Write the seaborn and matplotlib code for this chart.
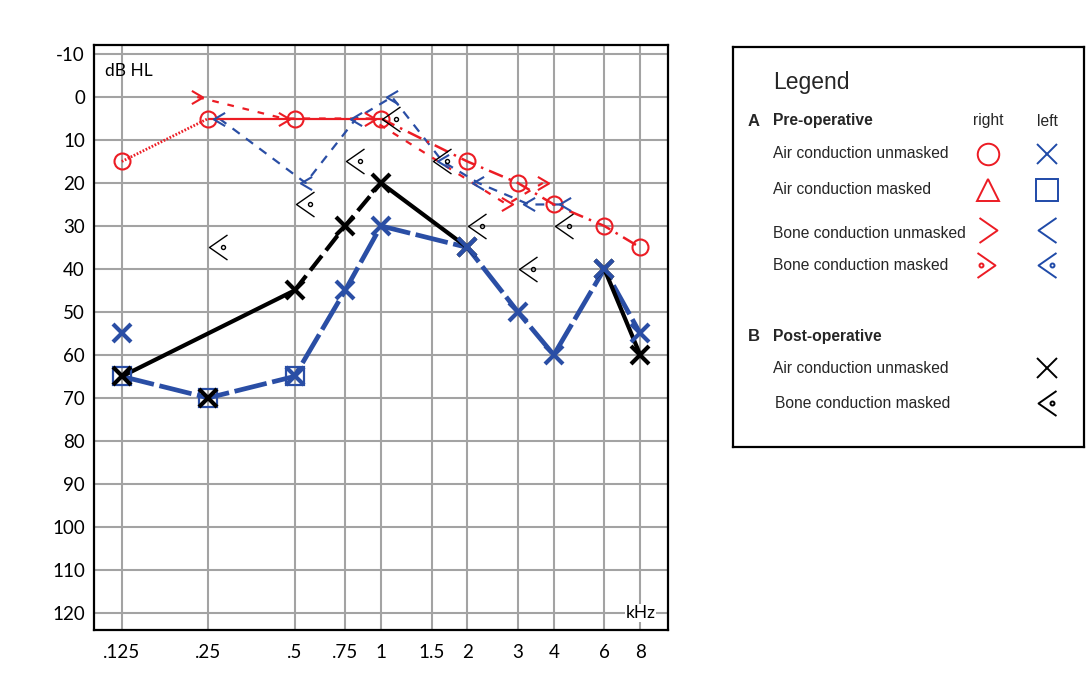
import numpy as np
import pandas as pd
import matplotlib
matplotlib.use('Agg')
import matplotlib.pyplot as plt
import seaborn as sns
from matplotlib.path import Path
from matplotlib.transforms import ScaledTranslation
from matplotlib.ticker import NullLocator, FixedLocator, FixedFormatter

# ---------------- data ----------------
freq_ticks = [0.125, 0.25, 0.5, 0.75, 1, 1.5, 2, 3, 4, 6, 8]
freq_labels = ['.125', '.25', '.5', '.75', '1', '1.5', '2', '3', '4', '6', '8']
db_ticks = list(range(-10, 130, 10))

# Pre-operative, right ear
right_air_freq = [0.125, 0.25, 0.5, 1, 2, 3, 4, 6, 8]
right_air_db = [15, 5, 5, 5, 15, 20, 25, 30, 35]
right_bone_freq = [0.25, 0.5, 1, 3, 4]
right_bone_db = [0, 5, 5, 25, 20]

# Pre-operative, left ear
left_air_freq = [0.125, 0.25, 0.5, 0.75, 1, 2, 3, 4, 6, 8]
left_air_db = [65, 70, 65, 45, 30, 35, 50, 60, 40, 55]
left_air_extra_freq = [0.125]
left_air_extra_db = [55]
left_air_masked_freq = [0.125, 0.25, 0.5]
left_air_masked_db = [65, 70, 65]
left_bone_freq = [0.25, 0.5, 0.75, 1, 1.5, 2, 3, 4]
left_bone_db = [5, 20, 5, 0, 15, 20, 25, 25]

# Post-operative
post_air_freq = [0.125, 0.25, 0.5, 0.75, 1, 2, 6, 8]
post_air_db = [65, 70, 45, 30, 20, 35, 40, 60]
post_bone_freq = [0.25, 0.5, 0.75, 1, 1.5, 2, 3, 4]
post_bone_db = [35, 25, 15, 5, 15, 30, 40, 30]

# ---------------- style ----------------
RED = '#ec1c24'
BLUE = '#2a4ea5'
LBLUE = '#1f4aa8'
GRID = '#a3a3a3'

sns.set_style('white')
plt.rcParams['font.family'] = ['Lato', 'DejaVu Sans']

W, H = 1086, 686
fig = plt.figure(figsize=(W / 100, H / 100), dpi=100)
ax = fig.add_axes([94 / W, 1 - 630 / H, 574 / W, 585 / H])
ax.set_xscale('log', base=2)
ax.set_xlim(0.1, 10.0)
ax.set_ylim(124.0, -12.1)


def chevron(direction, dot=False, half_w=0.72):
    s = 1 if direction == 'left' else -1
    verts = [(s * half_w, 1), (-s * half_w, 0), (s * half_w, -1)]
    p = Path(verts, [Path.MOVETO, Path.LINETO, Path.LINETO])
    if dot:
        c = Path.circle((s * 0.40, 0), 0.16)
        p = Path.make_compound_path(p, c)
    return p


M_LEFT = chevron('left', half_w=0.85)
M_RIGHT = chevron('right', half_w=0.85)
M_LEFT_DOT = chevron('left', dot=True)
M_RIGHT_DOT = chevron('right', dot=True)


def draw_line(f, d, color, lw, ls, offset_px=0, z=2):
    sns.lineplot(x=f, y=d, ax=ax, sort=False, estimator=None, legend=False,
                 color=color, linewidth=lw, linestyle=ls, zorder=z)
    ln = ax.lines[-1]
    ln.set_solid_capstyle('butt')
    ln.set_dash_capstyle('butt')
    if offset_px:
        ln.set_transform(ax.transData + ScaledTranslation(offset_px / 100, 0, fig.dpi_scale_trans))
    return ln


def draw_markers(f, d, marker, color, size, mew, offset_px=0, z=4):
    sns.lineplot(x=f, y=d, ax=ax, sort=False, estimator=None, legend=False,
                 color=color, linestyle='none', marker=marker, markersize=size,
                 markeredgewidth=mew, markeredgecolor=color,
                 markerfacecolor='none', zorder=z)
    ln = ax.lines[-1]
    if offset_px:
        ln.set_transform(ax.transData + ScaledTranslation(offset_px / 100, 0, fig.dpi_scale_trans))
    return ln


RB_OFF, LB_OFF = -11, 11

# --- left ear (blue) ---
draw_line(left_air_freq, left_air_db, BLUE, 3.4, (0, (7, 1.2)), z=2)
draw_line(left_bone_freq, left_bone_db, BLUE, 1.6, (0, (4, 3.5)), offset_px=LB_OFF, z=2)

# --- right ear (red) ---
draw_line(right_air_freq[0:2], right_air_db[0:2], RED, 2.0, (0, (0.6, 0.6)), z=2)
draw_line(right_air_freq[1:4], right_air_db[1:4], RED, 1.6, '-', z=2)
draw_line(right_air_freq[3:], right_air_db[3:], RED, 1.8, (0, (6, 2.5, 1, 2.5)), z=2)
draw_line(right_bone_freq, right_bone_db, RED, 1.6, (0, (3, 4)), offset_px=RB_OFF, z=2)

# --- post-operative (black) ---
idx_a = [0, 2]
idx_b = [2, 3, 4]
idx_c = [4, 5]
idx_d = [6, 7]
draw_line([post_air_freq[i] for i in idx_a], [post_air_db[i] for i in idx_a], 'black', 3.0, '-', z=3)
draw_line([post_air_freq[i] for i in idx_b], [post_air_db[i] for i in idx_b], 'black', 3.0, (0, (4.5, 1.6)), z=3)
draw_line([post_air_freq[i] for i in idx_c], [post_air_db[i] for i in idx_c], 'black', 3.0, '-', z=3)
draw_line([post_air_freq[i] for i in idx_d], [post_air_db[i] for i in idx_d], 'black', 3.0, '-', z=3)

# --- markers ---
draw_markers(right_air_freq, right_air_db, 'o', RED, 11.5, 1.5, z=5)
draw_markers(right_bone_freq, right_bone_db, M_RIGHT, RED, 9.5, 1.5, offset_px=RB_OFF, z=5)
draw_markers(left_bone_freq, left_bone_db, M_LEFT, BLUE, 9.5, 1.5, offset_px=LB_OFF, z=5)
draw_markers(left_air_masked_freq, left_air_masked_db, 's', BLUE, 12.5, 1.6, z=4)
draw_markers(post_air_freq, post_air_db, 'x', 'black', 13.5, 3.0, z=5)
draw_markers(left_air_freq[2:], left_air_db[2:], 'x', BLUE, 13.5, 3.0, z=6)
draw_markers(left_air_extra_freq, left_air_extra_db, 'x', BLUE, 13.5, 3.0, z=6)
draw_markers(post_bone_freq, post_bone_db, M_LEFT_DOT, 'black', 18, 1.0, offset_px=LB_OFF - 1, z=6)

# --- axes styling ---
ax.xaxis.set_major_locator(FixedLocator(freq_ticks))
ax.xaxis.set_major_formatter(FixedFormatter(freq_labels))
ax.xaxis.set_minor_locator(NullLocator())
ax.set_yticks(db_ticks)
ax.set_yticklabels([str(v) for v in db_ticks])
ax.tick_params(axis='both', length=0, labelsize=13.5, colors='black')
ax.tick_params(axis='y', pad=6.5)
ax.tick_params(axis='x', pad=10)
ax.grid(True, color=GRID, linewidth=1.5, zorder=0)
ax.set_axisbelow(True)
for sp in ax.spines.values():
    sp.set_visible(True)
    sp.set_color('black')
    sp.set_linewidth(1.6)
ax.set_xlabel('')
ax.set_ylabel('')

ax.text(0.019, 0.955, 'dB HL', transform=ax.transAxes, ha='left', va='center',
        fontsize=12.5, color='black')
ax.text(0.978, 120, 'kHz', transform=ax.get_yaxis_transform(), ha='right', va='center',
        fontsize=12.5, color='black', zorder=7,
        bbox=dict(boxstyle='square,pad=0.05', facecolor='white', edgecolor='none'))

# ---------------- legend panel ----------------
lax = fig.add_axes([733 / W, 1 - 446.7 / H, (1084 - 733) / W, (446.7 - 46.7) / H])
lax.set_xlim(733, 1084)
lax.set_ylim(446.7, 46.7)
lax.set_xticks([])
lax.set_yticks([])
for sp in lax.spines.values():
    sp.set_visible(True)
    sp.set_color('black')
    sp.set_linewidth(1.6)

LF = ['Liberation Sans', 'DejaVu Sans']
FS = 11.25
lax.text(773, 82, 'Legend', fontsize=16.5, family=LF, va='center', ha='left')
lax.text(748, 121, 'A', fontsize=12, family=LF, weight='bold', va='center', ha='left')
lax.text(773, 121, 'Pre-operative', fontsize=FS, family=LF, weight='bold', va='center', ha='left')
lax.text(988, 121, 'right', fontsize=FS, family=LF, va='center', ha='center')
lax.text(1047, 121, 'left', fontsize=FS, family=LF, va='center', ha='center')

rows = [
    (154, 'Air conduction unmasked', 773),
    (190, 'Air conduction masked', 773),
    (233, 'Bone conduction unmasked', 773),
    (265, 'Bone conduction masked', 773),
]
for y, t, x in rows:
    lax.text(x, y, t, fontsize=FS, family=LF, va='center', ha='left')

lax.text(748, 336, 'B', fontsize=12, family=LF, weight='bold', va='center', ha='left')
lax.text(773, 336, 'Post-operative', fontsize=FS, family=LF, weight='bold', va='center', ha='left')
lax.text(773, 368, 'Air conduction unmasked', fontsize=FS, family=LF, va='center', ha='left')
lax.text(775, 403, 'Bone conduction masked', fontsize=FS, family=LF, va='center', ha='left')


def lsym(x, y, m, c, size, mew):
    lax.plot([x], [y], linestyle='none', marker=m, markersize=size, markeredgewidth=mew,
             markeredgecolor=c, markerfacecolor='none')


lsym(988, 154, 'o', RED, 15.5, 1.4)
lsym(1047, 154, 'x', LBLUE, 14.5, 1.4)
lsym(988, 190, '^', RED, 16.5, 1.4)
lsym(1047, 190, 's', LBLUE, 16.5, 1.4)
lsym(988, 230, chevron('right'), RED, 18, 1.4)
lsym(1047, 230, chevron('left'), LBLUE, 18, 1.4)
lsym(986, 265, M_RIGHT_DOT, RED, 18, 1.4)
lsym(1047, 265, M_LEFT_DOT, LBLUE, 18, 1.4)
lsym(1047, 368, 'x', 'black', 14.5, 1.4)
lsym(1047, 403, M_LEFT_DOT, 'black', 18, 1.4)

fig.savefig('out.png', dpi=100)
